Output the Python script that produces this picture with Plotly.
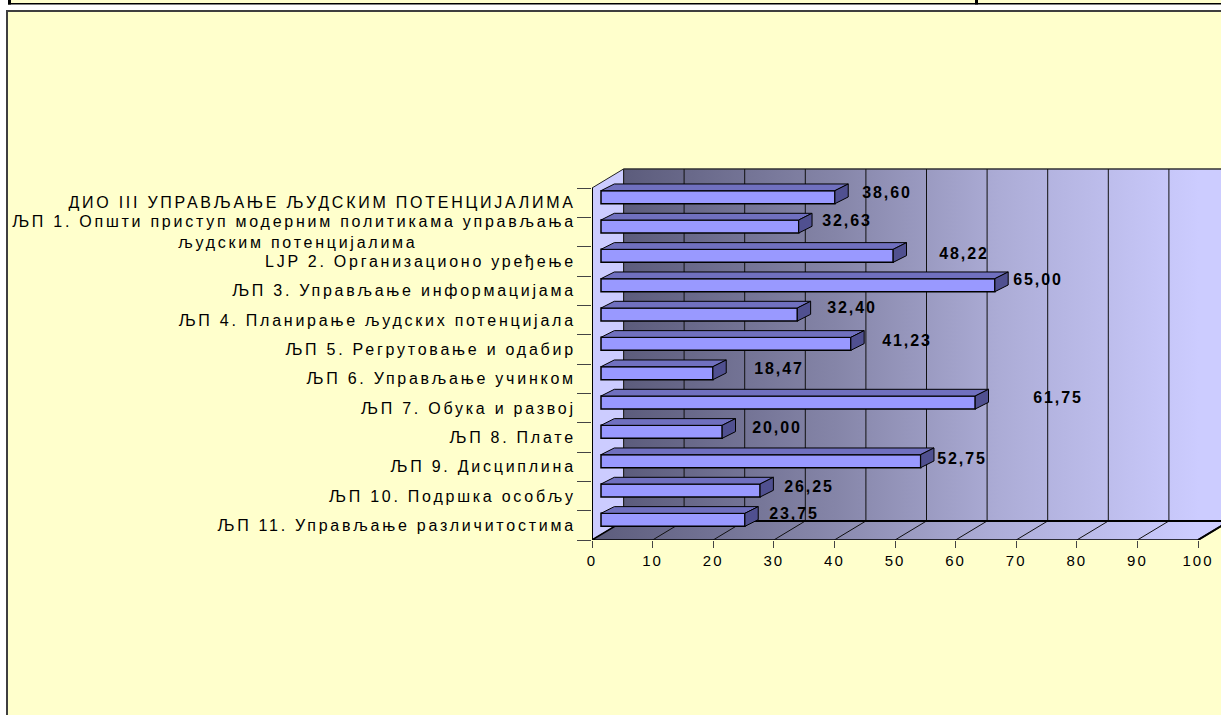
import plotly.graph_objects as go

categories = [
    "ДИО III УПРАВЉАЊЕ ЉУДСКИМ ПОТЕНЦИЈАЛИМА",
    "ЉП 1. Општи приступ модерним политикама управљања<br>људским потенцијалима" + "\u00a0" * 22,
    "LJP 2. Организационо уређење",
    "ЉП 3. Управљање информацијама",
    "ЉП 4. Планирање људских потенцијала",
    "ЉП 5. Регрутовање и одабир",
    "ЉП 6. Управљање учинком",
    "ЉП 7. Обука и развој",
    "ЉП 8. Плате",
    "ЉП 9. Дисциплина",
    "ЉП 10. Подршка особљу",
    "ЉП 11. Управљање различитостима",
]
values = [38.60, 32.63, 48.22, 65.00, 32.40, 41.23, 18.47, 61.75, 20.00, 52.75, 26.25, 23.75]
value_labels = ["38,60", "32,63", "48,22", "65,00", "32,40", "41,23", "18,47", "61,75", "20,00", "52,75", "26,25", "23,75"]
label_dx = [52, 48, 71, 43, 55, 56, 66, 83, 55, 41, 49, 49]
label_dy = [5, 5.5, 2, 6, 7.5, 3, 5, 5.5, 4, 3, 4.5, 6]
x_ticks = list(range(0, 101, 10))

W, H = 1221, 715
X0, X100, Y_TOP, Y_BOT = 592, 1198, 188, 540
PX_X = (X100 - X0) / 100
PX_Y = (Y_BOT - Y_TOP) / 12
DEPTH_X, DEPTH_Y = 31.5 / PX_X, 19 / PX_Y
BAR_X, BAR_Y = 9 / PX_X, 5.5 / PX_Y
BD_X, BD_Y = 13.3 / PX_X, 6.7 / PX_Y
BAR_H = 13 / PX_Y
PLOT_TOP = 160
x_range = [0, (W - X0) / PX_X]
y_range = [11.5, -0.5 - (Y_TOP - PLOT_TOP) / PX_Y]
n = len(categories)
y_lo, y_hi = -0.5, n - 0.5

GRAD = [[0, "#5c5c7c"], [0.35, "#8585a8"], [0.62, "#acacd6"], [0.95, "#ccccff"], [1, "#ccccff"]]
fig = go.Figure()


def poly(xs, ys, color=None, line="#000000", width=1, grad=None, axes=("x", "y")):
    t = dict(x=xs, y=ys, mode="lines", fill="toself", hoverinfo="skip", showlegend=False,
             line=dict(color=line, width=width), xaxis=axes[0], yaxis=axes[1])
    if grad:
        t["fillgradient"] = dict(type="horizontal", colorscale=grad)
    else:
        t["fillcolor"] = color
    fig.add_trace(go.Scatter(**t))


# back wall, side wall, floor
poly([DEPTH_X, 100 + DEPTH_X, 100 + DEPTH_X, DEPTH_X, DEPTH_X],
     [y_lo - DEPTH_Y, y_lo - DEPTH_Y, y_hi - DEPTH_Y, y_hi - DEPTH_Y, y_lo - DEPTH_Y], grad=GRAD, line="#333333", width=1.5)
poly([0, DEPTH_X, DEPTH_X, 0, 0], [y_lo, y_lo - DEPTH_Y, y_hi - DEPTH_Y, y_hi, y_lo], color="#ccccff", line="#222222", width=1)
poly([0, 100, 100 + DEPTH_X, DEPTH_X, 0], [y_hi, y_hi, y_hi - DEPTH_Y, y_hi - DEPTH_Y, y_hi], grad=GRAD, line="#000000", width=1.5)

# grid lines on wall and floor
gx, gy = [], []
for t in x_ticks[1:-1]:
    gx += [t, t + DEPTH_X, t + DEPTH_X, None]
    gy += [y_hi, y_hi - DEPTH_Y, y_lo - DEPTH_Y, None]
fig.add_trace(go.Scatter(x=gx, y=gy, mode="lines", line=dict(color="#111111", width=1), hoverinfo="skip", showlegend=False))
fig.add_trace(go.Scatter(x=[0, 0, None, 100, 100 + DEPTH_X, None, DEPTH_X, 100 + DEPTH_X],
                         y=[y_lo, y_hi, None, y_hi, y_hi - DEPTH_Y, None, y_hi - DEPTH_Y, y_hi - DEPTH_Y], mode="lines",
                         line=dict(color="#000000", width=2), hoverinfo="skip", showlegend=False))

# front faces of the bars
fig.add_trace(go.Bar(x=values, y=[i - BAR_Y for i in range(n)], base=BAR_X, width=BAR_H, orientation="h",
                     marker=dict(color="#9999ff", line=dict(color="#000000", width=1.5)),
                     xaxis="x2", yaxis="y2", showlegend=False, hoverinfo="skip"))
# top and side faces of the bars
for i, v in enumerate(values):
    l, r = BAR_X, BAR_X + v
    t, b = i - BAR_Y - BAR_H / 2, i - BAR_Y + BAR_H / 2
    poly([l, l + BD_X, r + BD_X, r, l], [t, t - BD_Y, t - BD_Y, t, t], color="#7070bf", axes=("x2", "y2"))
    poly([r, r + BD_X, r + BD_X, r, r], [t, t - BD_Y, b - BD_Y, b, t], color="#505090", axes=("x2", "y2"))

# value labels
for i, v in enumerate(values):
    fig.add_annotation(x=BAR_X + v, y=i - BAR_Y, xref="x2", yref="y2", text=f"<b>{value_labels[i]}</b>", showarrow=False,
                       xshift=label_dx[i], yshift=label_dy[i], xanchor="center", yanchor="middle",
                       font=dict(family="Liberation Sans", size=16, color="#000000"))

shapes = []
def rect(x0, y0, x1, y1, fill, line=None, lw=0):
    shapes.append(dict(type="rect", xref="paper", yref="paper", layer="below",
                       x0=x0 / W, x1=x1 / W, y0=1 - y0 / H, y1=1 - y1 / H, fillcolor=fill,
                       line=dict(color=line or fill, width=lw)))

rect(8, -2, 975, 3, "#ffffcc")
rect(978, -2, W, 3, "#ffffcc")
rect(8, 0, 11, 4.5, "#000000")
rect(8, 3, W, 4.5, "#000000")
rect(975, 0, 978, 4.5, "#000000")
rect(6, 10, W, H, "#3f3f3f")
rect(8, 12, W, H, "#ffffcc")

tick_font = dict(family="Liberation Sans", size=16, color="#000000")
x_tick_font = dict(family="Liberation Sans", size=15, color="#000000")
fig.update_layout(
    width=W, height=H, margin=dict(l=0, r=0, t=0, b=0), paper_bgcolor="#ffffff", plot_bgcolor="rgba(0,0,0,0)",
    autosize=False, showlegend=False, shapes=shapes, barmode="overlay",
    xaxis=dict(domain=[X0 / W, 1], range=x_range, tickmode="array", tickvals=x_ticks, ticks="outside", ticklen=7,
               tickcolor="#444444", showgrid=False, zeroline=False, showline=False, tickfont=x_tick_font, anchor="y",
               automargin=False),
    yaxis=dict(domain=[1 - Y_BOT / H, 1 - PLOT_TOP / H], range=y_range, tickmode="array", tickvals=list(range(n)),
               ticktext=categories, ticks="outside", ticklen=12, tickcolor="rgba(0,0,0,0)", showgrid=False, zeroline=False,
               showline=False, tickfont=tick_font, anchor="x", automargin=False,
               minor=dict(tickmode="array", tickvals=[i - 0.5 for i in range(n + 1)], ticks="outside", ticklen=14,
                          tickcolor="#444444", showgrid=False)),
    xaxis2=dict(domain=[X0 / W, 1], range=x_range, overlaying="x", visible=False, anchor="y2", automargin=False),
    yaxis2=dict(domain=[1 - Y_BOT / H, 1 - PLOT_TOP / H], range=y_range, overlaying="y", visible=False, anchor="x2", automargin=False),
)

post = """
document.documentElement.style.margin='0';document.body.style.margin='0';document.body.style.overflow='hidden';
var s=document.createElement('style');
s.textContent='.ytick text{letter-spacing:2.75px}.xtick text{letter-spacing:2px}.annotation-text{letter-spacing:1.9px}';
document.head.appendChild(s);
"""
fig.write_html("out.html", post_script=post, config=dict(displayModeBar=False))
